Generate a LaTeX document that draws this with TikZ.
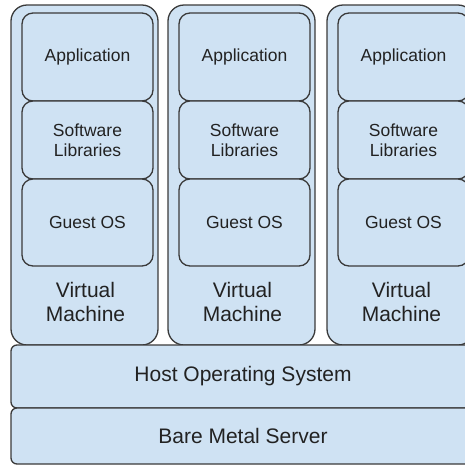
\documentclass[tikz,border=0pt]{standalone}
\usepackage{fontspec}
\setmainfont{Liberation Sans}
\definecolor{boxfill}{HTML}{CFE2F3}
\definecolor{boxline}{HTML}{3A3A3A}
\definecolor{txt}{HTML}{222222}
\tikzset{
  vmbox/.style={draw=boxline, fill=boxfill, line width=1.3pt, rounded corners=16pt,
    minimum width=147pt, minimum height=340pt, inner sep=0pt},
  layerbox/.style={draw=boxline, fill=boxfill, line width=1.3pt, rounded corners=11pt,
    minimum width=131pt, inner sep=0pt, align=center, text=txt,
    font=\fontsize{17.5}{20}\selectfont},
  vmlabel/.style={align=center, text=txt, inner sep=0pt, font=\fontsize{21}{23.5}\selectfont},
  basebox/.style={draw=boxline, fill=boxfill, line width=1.3pt, rounded corners=6pt,
    minimum width=464pt, inner sep=0pt, text=txt, font=\fontsize{21}{24}\selectfont}
}
\begin{document}
\begin{tikzpicture}[x=1pt,y=-1pt]
\useasboundingbox (0,0) rectangle (465,467);
\clip (0,0) rectangle (465,467);
\foreach \i/\cx in {1/84.5, 2/241.5, 3/400.5}{
  \node[vmbox] (vm\i) at (\cx,175) {};
  \node[layerbox, minimum height=88pt] (app\i) at (\cx+3,57) {Application};
  \node[layerbox, minimum height=78pt] (lib\i) at (\cx+3,140) {Software\\Libraries};
  \node[layerbox, minimum height=87pt] (gos\i) at (\cx+3,222.5) {Guest OS};
  \node[vmlabel] (vml\i) at (\cx+1,302) {Virtual\\Machine};
}
\node[basebox, minimum height=63pt] (host) at (243,376.5) {Host Operating System};
\node[basebox, minimum height=56pt] (bare) at (243,436) {Bare Metal Server};
\end{tikzpicture}
\end{document}
